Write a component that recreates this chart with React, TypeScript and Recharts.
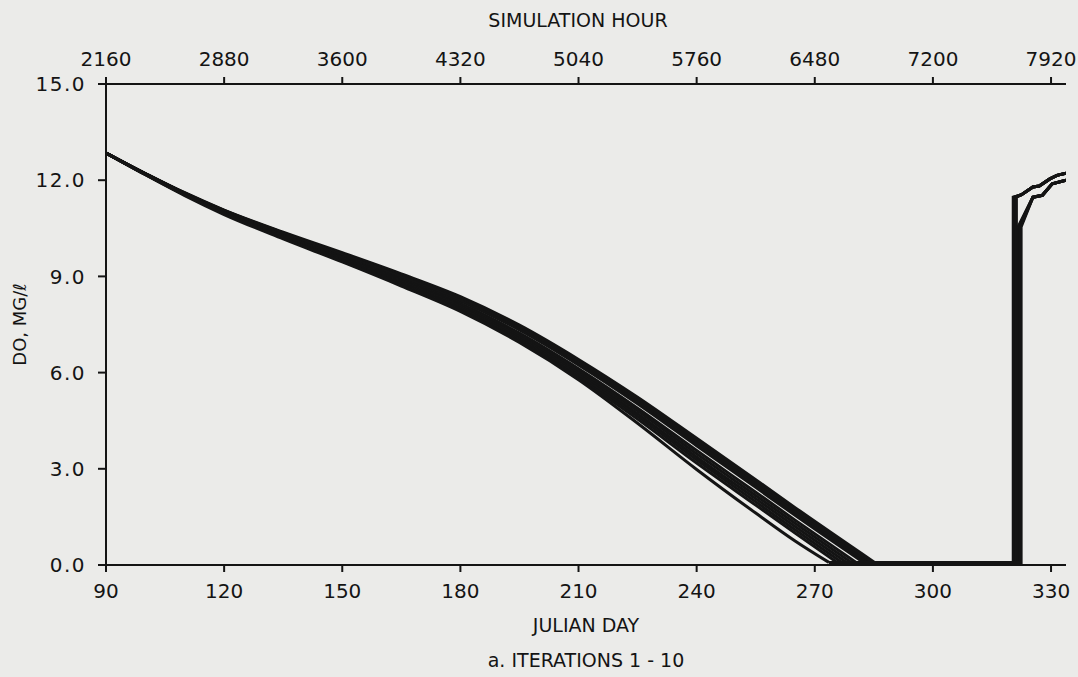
import { LineChart, Line, XAxis, YAxis, Label } from 'recharts';

// bottom axis (julian day) and matching top axis (simulation hour = day * 24)
const dayTicks = [90, 120, 150, 180, 210, 240, 270, 300, 330];
const hourLabels = ['2160', '2880', '3600', '4320', '5040', '5760', '6480', '7200', '7920'];
const doTicks = [0, 3, 6, 9, 12, 15];
const doLabels = ['0.0', '3.0', '6.0', '9.0', '12.0', '15.0'];

// DO (mg/l), one row per iteration
const declineDays = [90, 100, 110, 120, 135, 150, 165, 180, 195, 210, 225, 240, 255, 265];
const iter1 = [12.85, 12.21, 11.61, 11.07, 10.38, 9.74, 9.08, 8.37, 7.48, 6.41, 5.23, 3.95, 2.66, 1.79];
const iter2 = [12.85, 12.21, 11.6, 11.06, 10.36, 9.71, 9.05, 8.33, 7.43, 6.35, 5.16, 3.87, 2.58, 1.71];
const iter3 = [12.85, 12.2, 11.6, 11.05, 10.34, 9.69, 9.01, 8.29, 7.38, 6.29, 5.09, 3.8, 2.5, 1.63];
const iter4 = [12.85, 12.2, 11.59, 11.04, 10.33, 9.66, 8.98, 8.24, 7.33, 6.24, 5.03, 3.72, 2.42, 1.55];
const iter5 = [12.85, 12.2, 11.58, 11.02, 10.29, 9.61, 8.91, 8.16, 7.23, 6.12, 4.89, 3.57, 2.27, 1.4];
const iter6 = [12.85, 12.19, 11.57, 11.0, 10.27, 9.58, 8.87, 8.11, 7.17, 6.05, 4.81, 3.47, 2.17, 1.3];
const iter7 = [12.85, 12.19, 11.56, 10.99, 10.25, 9.55, 8.83, 8.06, 7.11, 5.98, 4.72, 3.37, 2.07, 1.2];
const iter8 = [12.85, 12.18, 11.55, 10.97, 10.22, 9.51, 8.78, 8.0, 7.04, 5.9, 4.64, 3.28, 1.97, 1.1];
const iter9 = [12.85, 12.18, 11.54, 10.96, 10.2, 9.48, 8.74, 7.95, 6.98, 5.83, 4.55, 3.18, 1.87, 1.0];
const iter10 = [12.85, 12.17, 11.52, 10.93, 10.17, 9.45, 8.7, 7.91, 6.94, 5.78, 4.42, 2.98, 1.62, 0.75];

// day each iteration hits bottom, then the day it jumps back up
const zeroDays = [285.2, 284.2, 283.3, 282.4, 280.5, 279.3, 278.1, 276.9, 275.7, 273.6];
const floorDO = 0.08;
const jumpDays = [320.4, 320.6, 320.8, 321.0, 321.2, 321.6, 321.8, 322.0, 322.2, 322.4];
const jumpTops = [11.47, 11.47, 11.47, 11.47, 11.47, 10.54, 10.54, 10.54, 10.54, 10.54];

// two recovery paths at the end of the year
const recoveryADays = [322.5, 325.4, 327.0, 329.7, 331.5, 333.8];
const recoveryAValues = [11.55, 11.79, 11.82, 12.04, 12.15, 12.22];
const recoveryBDays = [325.4, 327.8, 330.3, 333.8];
const recoveryBValues = [11.47, 11.53, 11.89, 12.0];

const iterations = [iter1, iter2, iter3, iter4, iter5, iter6, iter7, iter8, iter9, iter10];

// smooth decline down to zero
const declines = iterations.map((vals, i) => {
  const pts = declineDays.map((day, j) => ({ day, v: vals[j] }));
  pts.push({ day: zeroDays[i], v: floorDO });
  return pts;
});

// flat anoxic stretch, jump and recovery
const recoveries = iterations.map((_vals, i) => {
  const pts = [
    { day: zeroDays[i], v: floorDO },
    { day: jumpDays[i], v: floorDO },
    { day: jumpDays[i], v: jumpTops[i] },
  ];
  const recDays = i < 5 ? recoveryADays : recoveryBDays;
  const recVals = i < 5 ? recoveryAValues : recoveryBValues;
  recDays.forEach((day, j) => pts.push({ day, v: recVals[j] }));
  return pts;
});

const INK = '#141414';
const FONT = '"DejaVu Sans", sans-serif';
const tickStyle = { fill: INK, fontSize: 20, fontFamily: FONT };

export default function App() {
  return (
    <div style={{ position: 'absolute', left: 0, top: 0, width: 1078, height: 677, background: '#ebebe9' }}>
      <LineChart width={1078} height={677} margin={{ top: 54, right: 12, bottom: 82, left: 6 }}>
        <XAxis
          xAxisId="bottom"
          dataKey="day"
          type="number"
          domain={[90, 333.8]}
          allowDataOverflow
          ticks={dayTicks}
          interval={0}
          height={30}
          tickSize={7}
          tickMargin={12}
          stroke={INK}
          strokeWidth={2}
          tick={tickStyle}
        >
          <Label value="JULIAN DAY" position="bottom" offset={24} fill={INK} fontSize={19} fontFamily={FONT} />
          <Label value="a. ITERATIONS 1 - 10" position="bottom" offset={59} fill={INK} fontSize={19} fontFamily={FONT} />
        </XAxis>
        <XAxis
          xAxisId="top"
          orientation="top"
          dataKey="day"
          type="number"
          domain={[90, 333.8]}
          allowDataOverflow
          ticks={dayTicks}
          interval={0}
          height={30}
          tickSize={7}
          tickMargin={11}
          stroke={INK}
          strokeWidth={2}
          tick={tickStyle}
          tickFormatter={(_v: number, i: number) => hourLabels[i]}
        >
          <Label value="SIMULATION HOUR" position="top" offset={27} dx={-8} fill={INK} fontSize={19} fontFamily={FONT} />
        </XAxis>
        <YAxis
          type="number"
          domain={[0, 15]}
          ticks={doTicks}
          interval={0}
          width={100}
          tickSize={8}
          tickMargin={12}
          stroke={INK}
          strokeWidth={2}
          tick={{ ...tickStyle, letterSpacing: 1.5 }}
          tickFormatter={(_v: number, i: number) => doLabels[i]}
        >
          <Label value="DO, MG/ℓ" position="center" angle={-90} dx={-36} fill={INK} fontSize={18} fontFamily={FONT} />
        </YAxis>
        <YAxis
          yAxisId="right"
          orientation="right"
          type="number"
          domain={[0, 15]}
          width={0}
          tick={false}
          tickLine={false}
          stroke={INK}
          strokeWidth={2}
        />
        {declines.map((pts, i) => (
          <Line
            key={`decline-${i}`}
            xAxisId="bottom"
            data={pts}
            dataKey="v"
            type="monotone"
            stroke={INK}
            strokeWidth={3}
            dot={false}
            isAnimationActive={false}
          />
        ))}
        {recoveries.map((pts, i) => (
          <Line
            key={`recovery-${i}`}
            xAxisId="bottom"
            data={pts}
            dataKey="v"
            type="linear"
            stroke={INK}
            strokeWidth={3}
            dot={false}
            isAnimationActive={false}
          />
        ))}
      </LineChart>
    </div>
  );
}
